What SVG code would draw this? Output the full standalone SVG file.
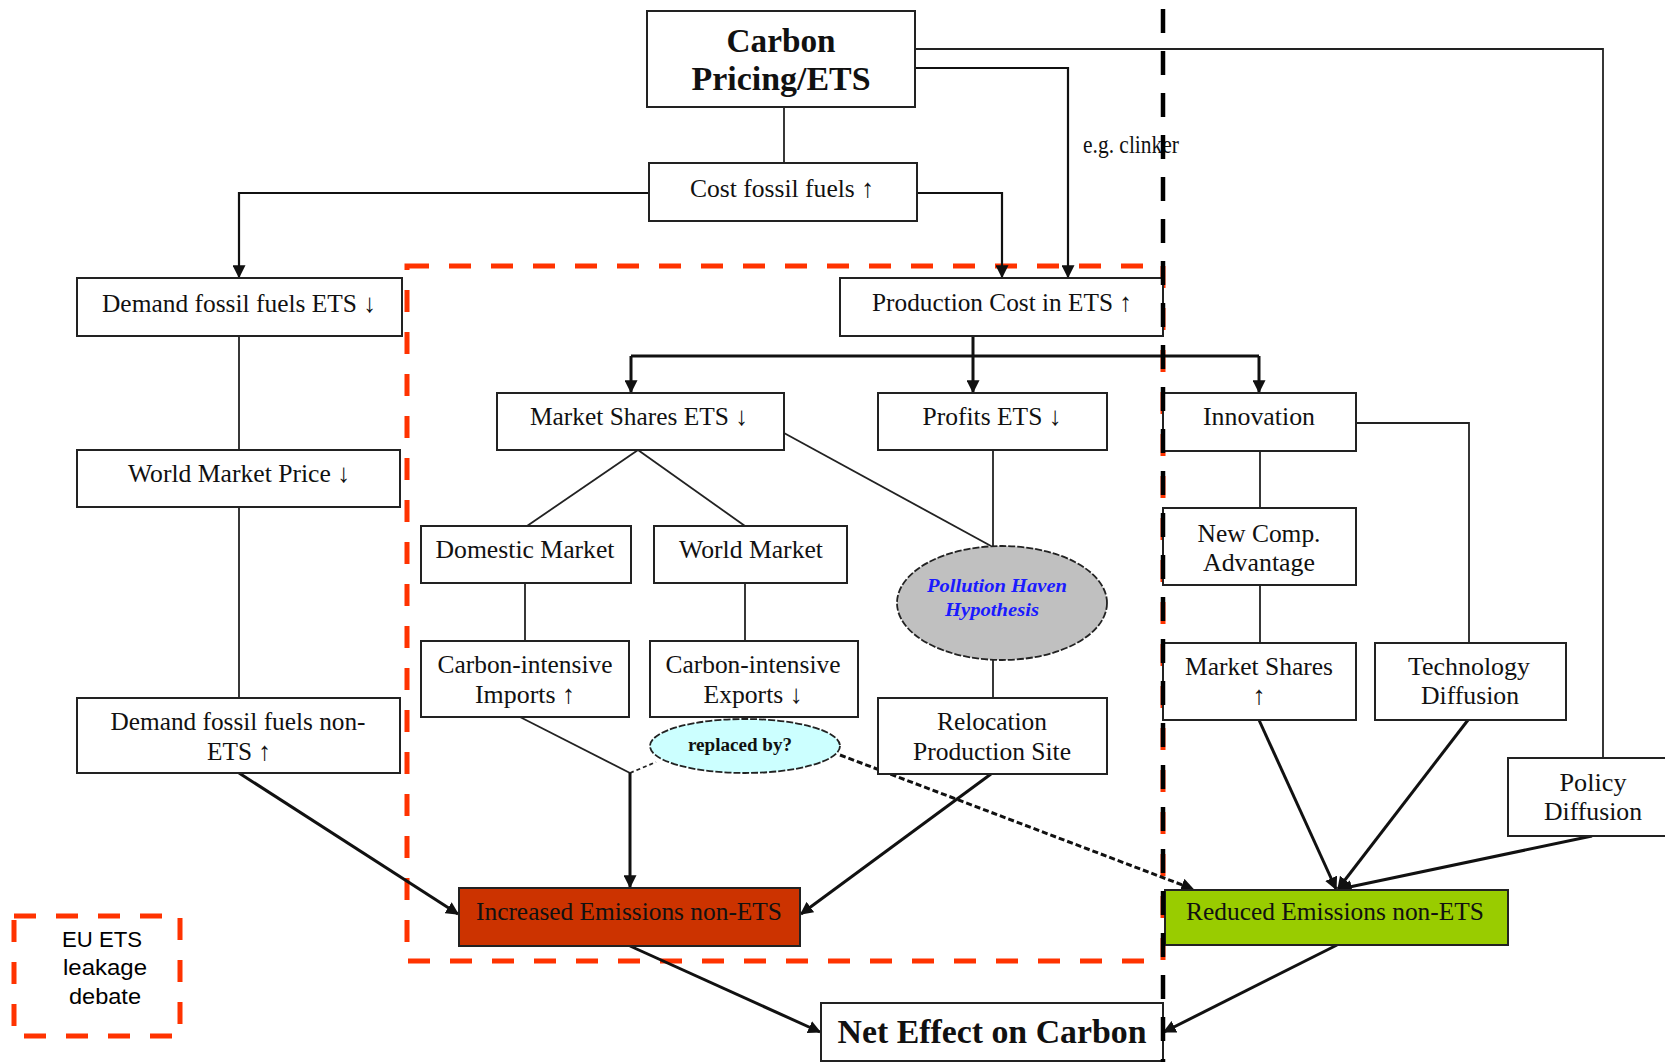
<svg xmlns="http://www.w3.org/2000/svg" width="1665" height="1062" viewBox="0 0 1665 1062">
  <style>
    .box { fill: #ffffff; stroke: #222222; stroke-width: 2; }
    .t { font-family: "Liberation Serif", "Times New Roman", serif; font-size: 26px; fill: #111111; text-anchor: middle; }
    .tb { font-family: "Liberation Serif", "Times New Roman", serif; font-weight: bold; fill: #111111; text-anchor: middle; }
    .thin { fill: none; stroke: #222222; stroke-width: 1.8; }
    .thick { fill: none; stroke: #111111; stroke-width: 3; }
    .arr { fill: none; stroke: #111111; stroke-width: 3; marker-end: url(#head); }
    .arr2 { fill: none; stroke: #111111; stroke-width: 2.2; marker-end: url(#head); }
    .dash { fill: none; stroke: #111111; stroke-width: 3; stroke-dasharray: 6 3; }
    .zone { fill: none; stroke: #ff3300; stroke-width: 5; stroke-dasharray: 22 20; }
  </style>
  <defs>
    <marker id="head" viewBox="0 0 10 10" refX="9" refY="5" markerWidth="13" markerHeight="13" markerUnits="userSpaceOnUse" orient="auto">
      <path d="M0,0 L10,5 L0,10 z" fill="#111111"/>
    </marker>
  </defs>

  <rect width="1665" height="1062" fill="#ffffff"/>

  <!-- leakage debate zone -->
  <rect id="zone-leakage" class="zone" x="407" y="266" width="756" height="695"/>

  <!-- connectors -->
  <g id="connectors">
    <path class="thin" d="M784,107 V163"/>
    <path class="arr2" d="M649,193 H239 V277"/>
    <path class="arr2" d="M917,193 H1002 V277"/>
    <path class="arr2" d="M915,68 H1068 V277"/>
    <path class="thin" d="M915,49 H1603 V758"/>
    <path class="thick" d="M973,336 V356"/>
    <path class="thick" d="M631,356 H1259"/>
    <path class="arr" d="M631,356 V392"/>
    <path class="arr" d="M973,356 V392"/>
    <path class="arr" d="M1259,356 V392"/>
    <path class="thin" d="M239,336 V450"/>
    <path class="thin" d="M239,507 V698"/>
    <path class="thin" d="M638,450 L527,526"/>
    <path class="thin" d="M638,450 L745,526"/>
    <path class="thin" d="M784,433 L991,546"/>
    <path class="thin" d="M993,450 V546"/>
    <path class="thin" d="M993,659 V698"/>
    <path class="thin" d="M525,583 V641"/>
    <path class="thin" d="M745,583 V641"/>
    <path class="thin" d="M520,717 L630,773"/>
    <path class="thin" d="M630,773 L656,762" stroke-dasharray="4 3"/>
    <path class="arr" d="M630,773 V887"/>
    <path class="arr" d="M239,773 L458,914"/>
    <path class="arr" d="M991,774 L801,914"/>
    <path class="dash" d="M840,755 L1193,889" marker-end="url(#head)"/>
    <path class="thin" d="M1260,451 V508"/>
    <path class="thin" d="M1260,585 V643"/>
    <path class="thin" d="M1356,423 H1469 V643"/>
    <path class="arr" d="M1259,720 L1336,889"/>
    <path class="arr" d="M1468,720 L1338,889"/>
    <path class="arr" d="M1592,836 L1340,889"/>
    <path class="arr" d="M630,946 L820,1032"/>
    <path class="arr" d="M1337,945 L1164,1032"/>
  </g>

  <!-- nodes -->
  <g id="carbon-pricing">
    <rect class="box" x="647" y="11" width="268" height="96"/>
    <text class="tb" x="781" y="52" font-size="34" textLength="109" lengthAdjust="spacingAndGlyphs">Carbon</text>
    <text class="tb" x="781" y="90" font-size="34" textLength="179" lengthAdjust="spacingAndGlyphs">Pricing/ETS</text>
  </g>
  <g id="cost-fossil-fuels">
    <rect class="box" x="649" y="163" width="268" height="58"/>
    <text class="t" x="782" y="197" textLength="184" lengthAdjust="spacingAndGlyphs">Cost fossil fuels ↑</text>
  </g>
  <g id="clinker-label">
    <text class="t" x="1131" y="153" font-size="18" textLength="96" lengthAdjust="spacingAndGlyphs">e.g. clinker</text>
  </g>
  <g id="production-cost">
    <rect class="box" x="840" y="278" width="323" height="58"/>
    <text class="t" x="1002" y="311" textLength="260" lengthAdjust="spacingAndGlyphs">Production Cost in ETS ↑</text>
  </g>
  <g id="demand-ets">
    <rect class="box" x="77" y="278" width="325" height="58"/>
    <text class="t" x="239" y="312" textLength="274" lengthAdjust="spacingAndGlyphs">Demand fossil fuels ETS ↓</text>
  </g>
  <g id="world-market-price">
    <rect class="box" x="77" y="450" width="323" height="57"/>
    <text class="t" x="239" y="482" textLength="222" lengthAdjust="spacingAndGlyphs">World Market Price ↓</text>
  </g>
  <g id="demand-non-ets">
    <rect class="box" x="77" y="698" width="323" height="75"/>
    <text class="t" x="238" y="730" textLength="255" lengthAdjust="spacingAndGlyphs">Demand fossil fuels non-</text>
    <text class="t" x="239" y="760" textLength="64" lengthAdjust="spacingAndGlyphs">ETS ↑</text>
  </g>
  <g id="market-shares-ets">
    <rect class="box" x="497" y="393" width="287" height="57"/>
    <text class="t" x="639" y="425" textLength="218" lengthAdjust="spacingAndGlyphs">Market Shares ETS ↓</text>
  </g>
  <g id="profits-ets">
    <rect class="box" x="878" y="393" width="229" height="57"/>
    <text class="t" x="992" y="425" textLength="139" lengthAdjust="spacingAndGlyphs">Profits ETS ↓</text>
  </g>
  <g id="innovation">
    <rect class="box" x="1163" y="393" width="193" height="58"/>
    <text class="t" x="1259" y="425" textLength="112" lengthAdjust="spacingAndGlyphs">Innovation</text>
  </g>
  <g id="domestic-market">
    <rect class="box" x="421" y="526" width="210" height="57"/>
    <text class="t" x="525" y="558" textLength="179" lengthAdjust="spacingAndGlyphs">Domestic Market</text>
  </g>
  <g id="world-market">
    <rect class="box" x="654" y="526" width="193" height="57"/>
    <text class="t" x="751" y="558" textLength="144" lengthAdjust="spacingAndGlyphs">World Market</text>
  </g>
  <g id="pollution-haven">
    <ellipse cx="1002" cy="603" rx="105" ry="57" fill="#c0c0c0" stroke="#222222" stroke-width="1.8" stroke-dasharray="7 2"/>
    <text class="tb" x="997" y="592" font-size="19" font-style="italic" style="fill:#1a1aff" textLength="140" lengthAdjust="spacingAndGlyphs">Pollution Haven</text>
    <text class="tb" x="992" y="616" font-size="19" font-style="italic" style="fill:#1a1aff" textLength="94" lengthAdjust="spacingAndGlyphs">Hypothesis</text>
  </g>
  <g id="imports">
    <rect class="box" x="421" y="641" width="208" height="76"/>
    <text class="t" x="525" y="673" textLength="175" lengthAdjust="spacingAndGlyphs">Carbon-intensive</text>
    <text class="t" x="525" y="703" textLength="100" lengthAdjust="spacingAndGlyphs">Imports ↑</text>
  </g>
  <g id="exports">
    <rect class="box" x="650" y="641" width="208" height="76"/>
    <text class="t" x="753" y="673" textLength="175" lengthAdjust="spacingAndGlyphs">Carbon-intensive</text>
    <text class="t" x="753" y="703" textLength="99" lengthAdjust="spacingAndGlyphs">Exports ↓</text>
  </g>
  <g id="replaced-by">
    <ellipse cx="745" cy="746" rx="95" ry="27" fill="#ccffff" stroke="#222222" stroke-width="1.8" stroke-dasharray="7 2"/>
    <text class="tb" x="740" y="751" font-size="18" textLength="104" lengthAdjust="spacingAndGlyphs">replaced by?</text>
  </g>
  <g id="relocation">
    <rect class="box" x="878" y="698" width="229" height="76"/>
    <text class="t" x="992" y="730" textLength="110" lengthAdjust="spacingAndGlyphs">Relocation</text>
    <text class="t" x="992" y="760" textLength="158" lengthAdjust="spacingAndGlyphs">Production Site</text>
  </g>
  <g id="new-comp-advantage">
    <rect class="box" x="1163" y="508" width="193" height="77"/>
    <text class="t" x="1259" y="542" textLength="123" lengthAdjust="spacingAndGlyphs">New Comp.</text>
    <text class="t" x="1259" y="571" textLength="112" lengthAdjust="spacingAndGlyphs">Advantage</text>
  </g>
  <g id="market-shares-up">
    <rect class="box" x="1163" y="643" width="193" height="77"/>
    <text class="t" x="1259" y="675" textLength="148" lengthAdjust="spacingAndGlyphs">Market Shares</text>
    <text class="t" x="1259" y="704">↑</text>
  </g>
  <g id="technology-diffusion">
    <rect class="box" x="1375" y="643" width="191" height="77"/>
    <text class="t" x="1469" y="675" textLength="122" lengthAdjust="spacingAndGlyphs">Technology</text>
    <text class="t" x="1470" y="704" textLength="98" lengthAdjust="spacingAndGlyphs">Diffusion</text>
  </g>
  <g id="policy-diffusion">
    <rect class="box" x="1508" y="758" width="170" height="78"/>
    <text class="t" x="1593" y="791" textLength="67" lengthAdjust="spacingAndGlyphs">Policy</text>
    <text class="t" x="1593" y="820" textLength="98" lengthAdjust="spacingAndGlyphs">Diffusion</text>
  </g>
  <g id="increased-emissions">
    <rect x="459" y="888" width="341" height="58" fill="#cc3300" stroke="#222222" stroke-width="2"/>
    <text class="t" x="629" y="920" textLength="306" lengthAdjust="spacingAndGlyphs">Increased Emissions non-ETS</text>
  </g>
  <g id="reduced-emissions">
    <rect x="1165" y="890" width="343" height="55" fill="#99cc00" stroke="#222222" stroke-width="2"/>
    <text class="t" x="1335" y="920" textLength="298" lengthAdjust="spacingAndGlyphs">Reduced Emissions non-ETS</text>
  </g>
  <g id="net-effect">
    <rect class="box" x="821" y="1003" width="342" height="58"/>
    <text class="tb" x="992" y="1043" font-size="33" textLength="309" lengthAdjust="spacingAndGlyphs">Net Effect on Carbon</text>
  </g>

  <!-- ETS boundary -->
  <line id="ets-boundary" x1="1163" y1="9" x2="1163" y2="1062" stroke="#000000" stroke-width="4.5" stroke-dasharray="24 18"/>

  <!-- legend -->
  <g id="legend">
    <rect class="zone" x="14" y="916" width="166" height="120" stroke-dasharray="22 18"/>
    <g font-family="'Liberation Sans', Arial, sans-serif" font-size="22" fill="#000000" text-anchor="middle">
      <text x="102" y="947" textLength="80" lengthAdjust="spacingAndGlyphs">EU ETS</text>
      <text x="105" y="975" textLength="84" lengthAdjust="spacingAndGlyphs">leakage</text>
      <text x="105" y="1004" textLength="72" lengthAdjust="spacingAndGlyphs">debate</text>
    </g>
  </g>
</svg>
